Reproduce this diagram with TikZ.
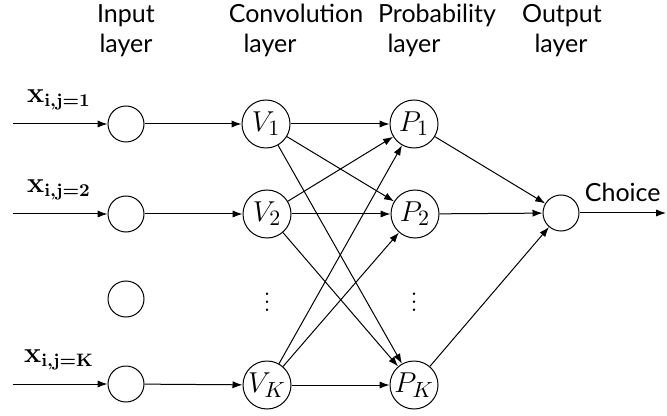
\documentclass[tikz,border=0pt]{standalone}
\usepackage{amsmath,amssymb}
\usepackage[no-math]{fontspec}
\newfontfamily\headfont{Lato}
\usetikzlibrary{positioning,arrows.meta,calc}

\begin{document}
\begin{tikzpicture}[x=0.5pt, y=-0.5pt,
  every node/.style={font=\fontsize{15}{18}\selectfont},
  unit/.style={draw, line width=0.5pt, circle, minimum size=18pt, inner sep=0pt},
  bigunit/.style={draw, line width=0.5pt, circle, minimum size=24pt, inner sep=0pt},
  head/.style={anchor=base, font=\fontsize{12.5}{15}\selectfont\headfont},
  xlbl/.style={font=\fontsize{13.5}{16}\selectfont\boldmath},
  conn/.style={line width=0.5pt, -{Latex[length=5pt, width=3.6pt]}},
]
\useasboundingbox (0,0) rectangle (667,416);
\node[head] (hin1) at (126,23) {Input};
\node[head] (hin2) at (126,53) {layer};
\node[head] (hconv1) at (296,23) {Convolution};
\node[head] (hconv2) at (270,53) {layer};
\node[head] (hprob1) at (437,23) {Probability};
\node[head] (hprob2) at (414,53) {layer};
\node[head] (hout1) at (562,23) {Output};
\node[head] (hout2) at (561,53) {layer};
\coordinate (s1) at (13,124);
\coordinate (s2) at (13,214);
\coordinate (sk) at (13,384);
\node[xlbl] (x1) at (59,100) {$\mathbf{x}_{\mathbf{i,j=1}}$};
\node[xlbl] (x2) at (59,190) {$\mathbf{x}_{\mathbf{i,j=2}}$};
\node[xlbl] (xk) at (59,360) {$\mathbf{x}_{\mathbf{i,j=K}}$};
\node[unit] (in1) at (126,124) {};
\node[unit] (in2) at (126,214) {};
\node[unit] (in3) at (126,299) {};
\node[unit] (ink) at (126,384) {};
\node[bigunit] (v1) at (266,124) {$V_1$};
\node[bigunit] (v2) at (267,214) {$V_2$};
\node (vdots) at (267,296) {$\vdots$};
\node[bigunit] (vk) at (267,385) {$V_K$};
\node[bigunit] (p1) at (414,124) {$P_1$};
\node[bigunit] (p2) at (415,214) {$P_2$};
\node (pdots) at (414,296) {$\vdots$};
\node[bigunit] (pk) at (414,385) {$P_K$};
\node[unit] (out) at (561,213) {};
\coordinate (choice) at (666,213);
\draw[conn] (s1) -- (in1);
\draw[conn] (s2) -- (in2);
\draw[conn] (sk) -- (ink);
\draw[conn] (in1) -- (v1);
\draw[conn] (in2) -- (v2);
\draw[conn] (ink) -- (vk);
\draw[conn] (v1) -- (p1);
\draw[conn] (v1) -- (p2);
\draw[conn] (v1) -- (pk);
\draw[conn] (v2) -- (p1);
\draw[conn] (v2) -- (p2);
\draw[conn] (v2) -- (pk);
\draw[conn] (vk) -- (p1);
\draw[conn] (vk) -- (p2);
\draw[conn] (vk) -- (pk);
\draw[conn] (p1) -- (out);
\draw[conn] (p2) -- (out);
\draw[conn] (pk) -- (out);
\draw[conn] (out) -- node[head, anchor=south, yshift=2pt] (lchoice) {Choice} (choice);
\end{tikzpicture}
\end{document}
